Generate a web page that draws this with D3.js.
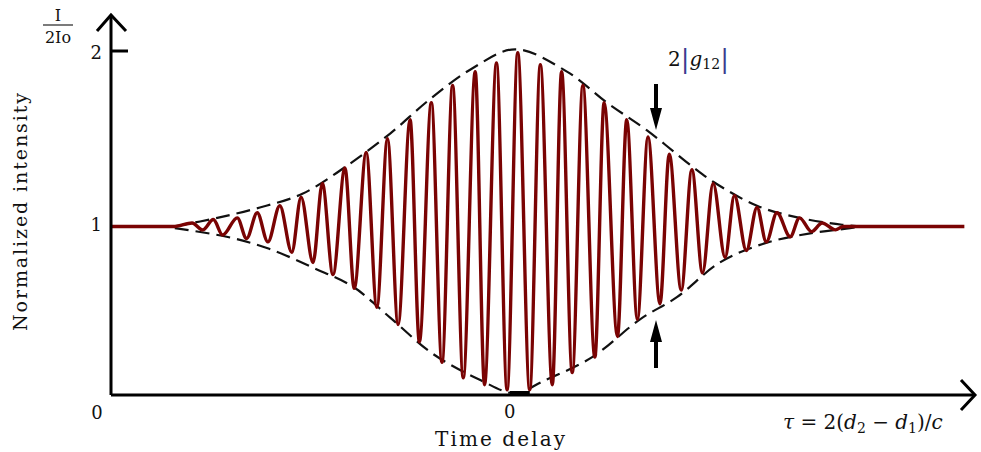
<!DOCTYPE html>
<html>
<head>
<meta charset="utf-8">
<script src="https://cdn.jsdelivr.net/npm/d3@7"></script>
<style>
  body { margin: 0; background: #fff; }
  text { font-family: "DejaVu Serif", "Liberation Serif", serif; fill: #111; }
</style>
</head>
<body>
<svg id="chart" width="981" height="452"></svg>
<script>
// fringe extrema (tau in delay units, normalized intensity)
const fringeTau = [-3.0, -2.52, -2.39, -2.31, -2.23, -2.16, -2.05, -1.98, -1.90, -1.82, -1.73, -1.64, -1.57, -1.48,
  -1.41, -1.33, -1.24, -1.17, -1.08, -1.00, -0.92, -0.84, -0.75, -0.68, -0.59, -0.51, -0.43, -0.35,
  -0.26, -0.19, -0.10, -0.02, 0.06, 0.15, 0.23, 0.32, 0.39, 0.47, 0.55, 0.64, 0.71, 0.81, 0.88,
  0.96, 1.04, 1.13, 1.20, 1.29, 1.37, 1.45, 1.53, 1.62, 1.69, 1.78, 1.86, 1.93, 2.01, 2.11, 2.18,
  2.27, 2.35, 2.45, 2.51, 2.65, 3.42];
const fringeValue = [0.98, 0.98, 1.00, 0.96, 1.02, 0.93, 1.03, 0.91, 1.06, 0.89, 1.10, 0.83, 1.15, 0.77,
  1.23, 0.70, 1.32, 0.62, 1.41, 0.51, 1.49, 0.41, 1.60, 0.31, 1.70, 0.19, 1.80, 0.10,
  1.88, 0.06, 1.93, 0.03, 1.99, 0.03, 1.92, 0.06, 1.88, 0.13, 1.80, 0.22, 1.70, 0.34, 1.60,
  0.44, 1.50, 0.53, 1.40, 0.61, 1.31, 0.71, 1.23, 0.80, 1.16, 0.84, 1.09, 0.89, 1.06, 0.92, 1.03,
  0.95, 1.00, 0.96, 0.98, 0.98, 0.98];

// dashed envelope, upper and lower
const upperTau = [-2.52, -2.20, -1.88, -1.56, -1.23, -0.90, -0.60, -0.28, 0.04, 0.43, 0.73, 1.03, 1.37, 1.53, 1.86, 2.18, 2.50, 2.65];
const upperValue = [0.98, 1.03, 1.09, 1.17, 1.33, 1.52, 1.72, 1.90, 2.01, 1.88, 1.70, 1.54, 1.33, 1.24, 1.10, 1.03, 0.99, 0.98];
const lowerTau = [-2.52, -2.13, -1.81, -1.48, -1.18, -0.90, -0.58, -0.23, 0.04, 0.25, 0.62, 0.98, 1.26, 1.58, 1.91, 2.26, 2.56, 2.65];
const lowerValue = [0.97, 0.92, 0.85, 0.74, 0.63, 0.45, 0.24, 0.09, 0.01, 0.08, 0.22, 0.44, 0.57, 0.77, 0.88, 0.94, 0.97, 0.98];

const yTicks = [1, 2];
const xTicks = [0];

const svg = d3.select('#chart');

const x = d3.scaleLinear().domain([-3, 3.5]).range([111, 975]);
const y = d3.scaleLinear().domain([0, 2]).range([395, 51]);

const line = d3.line().x(d => x(d[0])).y(d => y(d[1]));

// envelope
const upper = d3.zip(upperTau, upperValue);
const lower = d3.zip(lowerTau, lowerValue);
[upper, lower].forEach(pts => {
  svg.append('path')
    .attr('d', line.curve(d3.curveCatmullRom)(pts))
    .attr('fill', 'none')
    .attr('stroke', '#111')
    .attr('stroke-width', 2.2)
    .attr('stroke-dasharray', '14,7');
});

// fringes
svg.append('path')
  .attr('d', line.curve(d3.curveMonotoneX)(d3.zip(fringeTau, fringeValue)))
  .attr('fill', 'none')
  .attr('stroke', '#7a0303')
  .attr('stroke-width', 3.4)
  .attr('stroke-linejoin', 'round');

// axes with arrow heads
const axisG = svg.append('g').attr('stroke', '#000').attr('stroke-width', 3).attr('fill', 'none');
axisG.append('line').attr('x1', x(-3)).attr('y1', y(0)).attr('x2', x(-3)).attr('y2', 15);
axisG.append('line').attr('x1', x(-3)).attr('y1', y(0)).attr('x2', 975).attr('y2', y(0));
axisG.append('path').attr('d', `M${x(-3) - 14},31 L${x(-3)},15 L${x(-3) + 15},31`);
axisG.append('path').attr('d', `M961,${y(0) - 15} L975,${y(0)} L961,${y(0) + 15}`);

// y tick at 2 (drawn inward), x tick at 0 on the axis
yTicks.filter(v => v === 2).forEach(v => {
  axisG.append('line').attr('x1', x(-3)).attr('x2', x(-3) + 17).attr('y1', y(v)).attr('y2', y(v));
});
xTicks.forEach(v => {
  svg.append('line').attr('x1', x(v)).attr('x2', x(v) + 20).attr('y1', y(0) - 2).attr('y2', y(0) - 2)
    .attr('stroke', '#000').attr('stroke-width', 4);
});

// tick labels
yTicks.forEach(v => {
  svg.append('text').attr('x', 102).attr('y', y(v) + 8).attr('text-anchor', 'end')
    .attr('font-size', 18).text(v);
});
svg.append('text').attr('x', 97).attr('y', 419).attr('text-anchor', 'middle').attr('font-size', 18).text('0');
xTicks.forEach(v => {
  svg.append('text').attr('x', x(v)).attr('y', 418).attr('text-anchor', 'middle').attr('font-size', 18).text(v);
});

// axis titles
svg.append('text')
  .attr('transform', 'translate(27,212) rotate(-90)')
  .attr('text-anchor', 'middle')
  .attr('font-size', 19)
  .attr('textLength', 238)
  .attr('lengthAdjust', 'spacing')
  .text('Normalized intensity');

svg.append('text').attr('x', 500).attr('y', 446).attr('text-anchor', 'middle')
  .attr('font-size', 20).attr('textLength', 130).attr('lengthAdjust', 'spacing').text('Time delay');

// I / 2Io fraction
svg.append('text').attr('x', 58).attr('y', 21).attr('text-anchor', 'middle').attr('font-size', 16).text('I');
svg.append('line').attr('x1', 43).attr('x2', 73).attr('y1', 25).attr('y2', 25).attr('stroke', '#333').attr('stroke-width', 1.3);
svg.append('text').attr('x', 58).attr('y', 43).attr('text-anchor', 'middle').attr('font-size', 16).text('2Io');

// tau label
const tau = svg.append('text').attr('x', 783).attr('y', 429).attr('font-size', 20);
tau.append('tspan').attr('font-style', 'italic').text('τ');
tau.append('tspan').text(' = 2(');
tau.append('tspan').attr('font-style', 'italic').text('d');
tau.append('tspan').attr('font-size', 14).attr('dy', 4).text('2');
tau.append('tspan').attr('dy', -4).text(' − ');
tau.append('tspan').attr('font-style', 'italic').text('d');
tau.append('tspan').attr('font-size', 14).attr('dy', 4).text('1');
tau.append('tspan').attr('dy', -4).text(')/');
tau.append('tspan').attr('font-style', 'italic').text('c');

// 2|g12| annotation
const g12 = svg.append('text').attr('x', 668).attr('y', 66).attr('font-size', 20);
g12.append('tspan').text('2');
g12.append('tspan').attr('fill', '#3b3b8f').attr('font-size', 26).attr('dy', 2).text('|');
g12.append('tspan').attr('font-style', 'italic').attr('dy', -2).text('g');
g12.append('tspan').attr('font-size', 14).attr('dy', 3).text('12');
g12.append('tspan').attr('dy', -1).attr('fill', '#3b3b8f').attr('font-size', 26).text('|');

// arrows marking the fringe amplitude
const ax = 656;
svg.append('line').attr('x1', ax).attr('x2', ax).attr('y1', 84).attr('y2', 110).attr('stroke', '#000').attr('stroke-width', 4);
svg.append('path').attr('d', `M${ax - 6},108 L${ax + 6},108 L${ax},130 Z`).attr('fill', '#000');
svg.append('line').attr('x1', ax).attr('x2', ax).attr('y1', 340).attr('y2', 368).attr('stroke', '#000').attr('stroke-width', 4);
svg.append('path').attr('d', `M${ax - 6},342 L${ax + 6},342 L${ax},320 Z`).attr('fill', '#000');
</script>
</body>
</html>
